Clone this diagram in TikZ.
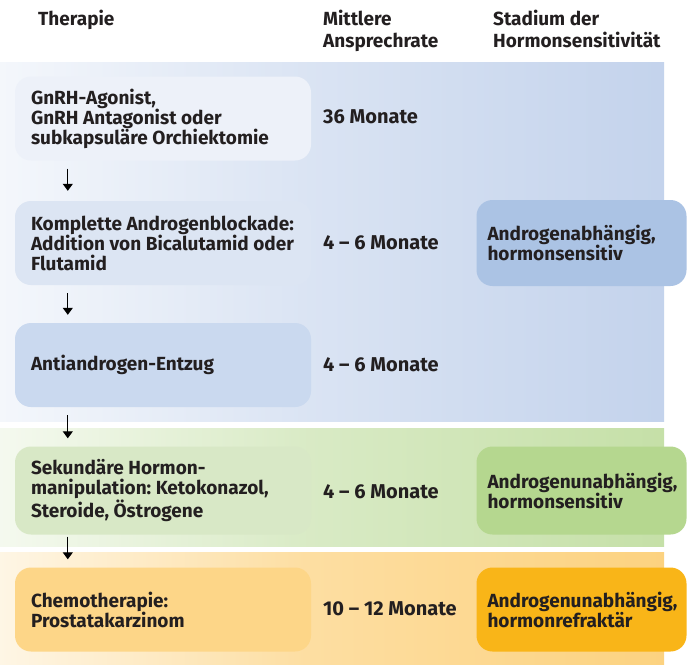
\documentclass[tikz,border=0pt]{standalone}
\usepackage{fontspec}
\setmainfont{Fira Sans}
\usetikzlibrary{arrows.meta,calc}
\definecolor{bandblue}{HTML}{AEC3E5}
\definecolor{bandgreen}{HTML}{B3D68C}
\definecolor{bandorange}{HTML}{F7B014}
\definecolor{bandorangemid}{HTML}{FCD07A}
\definecolor{boxblueA}{HTML}{EDF1F9}
\definecolor{boxblueB}{HTML}{DCE5F3}
\definecolor{boxblueC}{HTML}{CAD9EF}
\definecolor{stageblue}{HTML}{ABC3E4}
\definecolor{boxgreen}{HTML}{D8E8C6}
\definecolor{stagegreen}{HTML}{B5D78F}
\definecolor{boxorange}{HTML}{FDD688}
\definecolor{stageorange}{HTML}{F9B518}
\definecolor{txt}{HTML}{231F20}
\pgfdeclarehorizontalshading{blueband}{100bp}{color(0bp)=(white); color(15bp)=(white); color(48bp)=(bandblue!45!white); color(100bp)=(bandblue)}
\pgfdeclarehorizontalshading{greenband}{100bp}{color(0bp)=(white); color(16bp)=(white); color(48bp)=(bandgreen!50!white); color(100bp)=(bandgreen)}
\pgfdeclarehorizontalshading{orangeband}{100bp}{color(0bp)=(white); color(16bp)=(white); color(48bp)=(bandorangemid!70!white); color(80bp)=(bandorangemid); color(100bp)=(bandorange)}
\frenchspacing
\begin{document}
\begin{tikzpicture}[x=1pt,y=-1pt,
  every node/.style={text=txt,font=\fontsize{19}{20}\selectfont\bfseries},
  head/.style={font=\fontsize{19}{22}\selectfont\bfseries,anchor=north west,align=left,inner sep=0pt},
  therapybox/.style={rounded corners=16pt,minimum width=296pt,minimum height=84pt,inner sep=0pt},
  stagebox/.style={rounded corners=16pt,minimum width=210pt,minimum height=86pt,inner sep=0pt},
  boxtext/.style={anchor=west,align=left,inner sep=0pt},
  rate/.style={anchor=west,inner sep=0pt,font=\fontsize{20}{22}\selectfont\bfseries},
  arr/.style={line width=1.1pt,-{Triangle[length=7pt,width=10pt]}}]
\useasboundingbox (0,0) rectangle (688,664);
\fill[white] (0,0) rectangle (688,664);
% bands
\shade[shading=blueband] (0,62) rectangle (664,421);
\shade[shading=greenband] (0,428) rectangle (664,546);
\shade[shading=orangeband] (0,552) rectangle (664,664);
% headers
\node[head] (h1) at (38,10) {Therapie};
\node[head] (h2) at (323,10) {Mittlere\\Ansprechrate};
\node[head] (h3) at (493,10) {Stadium der\\Hormonsensitivität};
% therapy boxes
\node[therapybox,fill=boxblueA] (b1) at (163,118.5) {};
\node[therapybox,fill=boxblueB] (b2) at (163,243) {};
\node[therapybox,fill=boxblueC] (b3) at (163,365) {};
\node[therapybox,fill=boxgreen,minimum height=88pt] (b4) at (163,490.5) {};
\node[therapybox,fill=boxorange] (b5) at (163,609.5) {};
\node[boxtext] (t1) at ([xshift=16pt]b1.west) {GnRH-Agonist,\\GnRH Antagonist oder\\subkapsuläre Orchiektomie};
\node[boxtext] (t2) at ([xshift=16pt]b2.west) {Komplette Androgenblockade:\\Addition von Bicalutamid oder\\Flutamid};
\node[boxtext] (t3) at ([xshift=16pt]b3.west) {Antiandrogen-Entzug};
\node[boxtext] (t4) at ([xshift=16pt]b4.west) {Sekundäre Hormon-\\manipulation: Ketokonazol,\\Steroide, Östrogene};
\node[boxtext] (t5) at ([xshift=16pt]b5.west) {Chemotherapie:\\Prostatakarzinom};
% rates
\node[rate] (r1) at (323,117) {36 Monate};
\node[rate] (r2) at (323,243) {4 – 6 Monate};
\node[rate] (r3) at (323,365) {4 – 6 Monate};
\node[rate] (r4) at (323,492) {4 – 6 Monate};
\node[rate] (r5) at (323,609) {10 – 12 Monate};
% stage boxes
\node[stagebox,fill=stageblue] (s1) at (581.5,243) {};
\node[stagebox,fill=stagegreen,minimum height=88pt] (s2) at (581.5,490.5) {};
\node[stagebox,fill=stageorange,minimum height=84pt] (s3) at (581.5,609.5) {};
\node[boxtext] (u1) at ([xshift=11pt]s1.west) {Androgenabhängig,\\hormonsensitiv};
\node[boxtext] (u2) at ([xshift=11pt]s2.west) {Androgenunabhängig,\\hormonsensitiv};
\node[boxtext] (u3) at ([xshift=11pt]s3.west) {Androgenunabhängig,\\hormonrefraktär};
% arrows
\draw[arr] ([xshift=53pt,yshift=-8pt]b1.south west) -- ([xshift=53pt,yshift=10pt]b2.north west);
\draw[arr] ([xshift=53pt,yshift=-8pt]b2.south west) -- ([xshift=53pt,yshift=8pt]b3.north west);
\draw[arr] ([xshift=53pt,yshift=-8pt]b3.south west) -- ([xshift=53pt,yshift=8pt]b4.north west);
\draw[arr] ([xshift=53pt,yshift=-2pt]b4.south west) -- ([xshift=53pt,yshift=8pt]b5.north west);
\end{tikzpicture}
\end{document}
